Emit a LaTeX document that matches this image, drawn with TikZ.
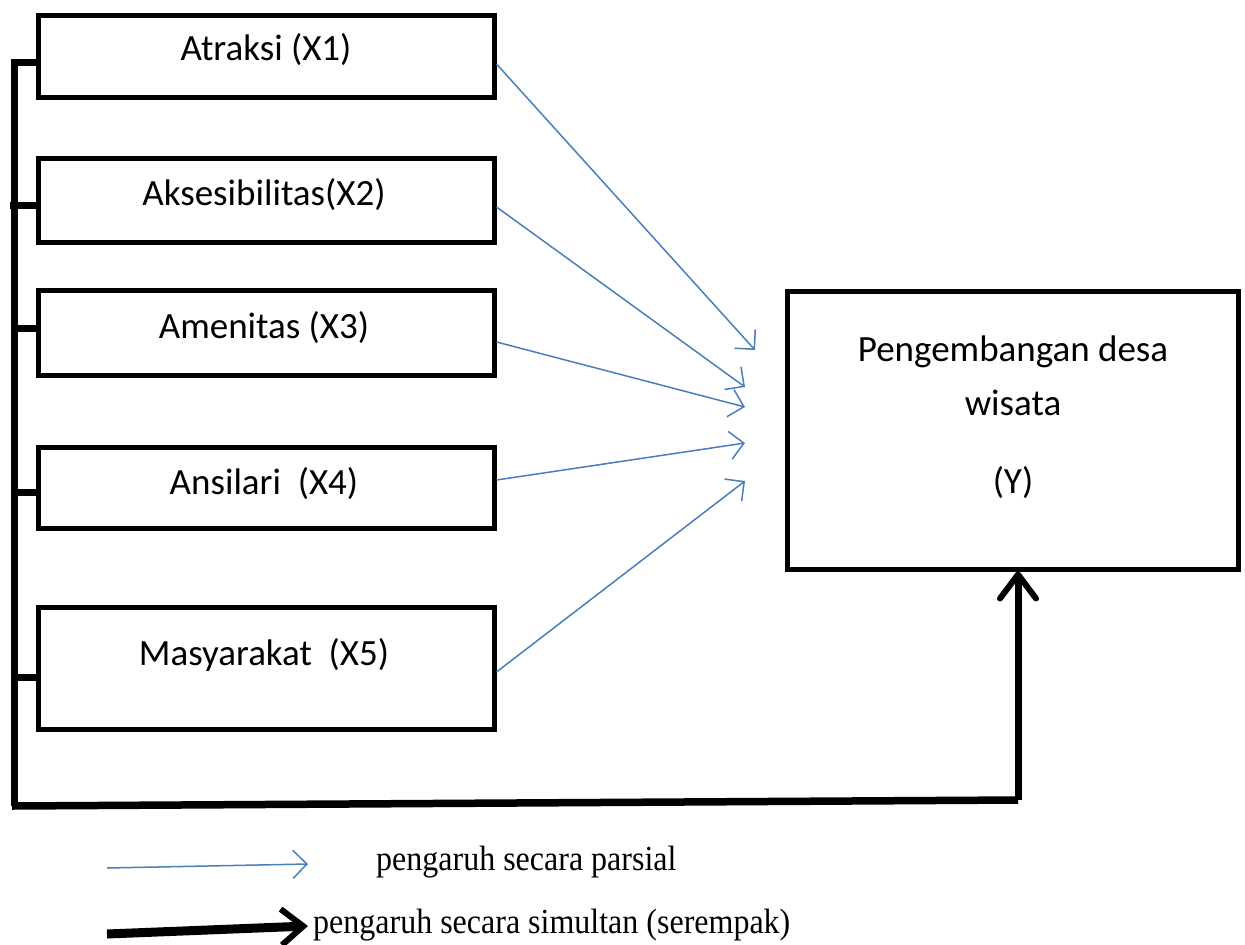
\documentclass[tikz,border=0pt]{standalone}
\usepackage{fontspec}
\setmainfont{Carlito}
\newfontfamily\legendfont{Liberation Serif}
\usetikzlibrary{arrows.meta,calc}
\definecolor{linkblue}{HTML}{4A7EBB}
\tikzset{
  xbox/.style={draw=black,line width=5pt,minimum width=456pt,inner sep=0pt},
  boxtext/.style={font=\fontsize{37}{44}\selectfont,inner sep=0pt},
  partial/.style={draw=linkblue,line width=1.5pt,-{Straight Barb[length=14pt,width=28pt,line width=1.5pt]}},
  simul/.style={draw=black,line width=7.5pt},
  simularrow/.style={draw=black,line width=7pt,-{Straight Barb[length=24pt,width=36pt,line width=6pt,round]}},
  bracket/.style={draw=black,line width=7pt},
  legtext/.style={font=\legendfont\fontsize{32}{38}\selectfont,inner sep=0pt,anchor=west}
}
\begin{document}
\begin{tikzpicture}[x=1pt,y=-1pt]
\useasboundingbox (0,0) rectangle (1245,945);
% boxes
\node[xbox,minimum height=82pt] (x1) at (266,56) {};
\node[xbox,minimum height=84pt] (x2) at (266,200) {};
\node[xbox,minimum height=85pt] (x3) at (266,333) {};
\node[xbox,minimum height=81pt] (x4) at (266,488) {};
\node[xbox,minimum height=122pt] (x5) at (266,668) {};
\node[draw=black,line width=5pt,minimum width=451pt,minimum height=278pt,inner sep=0pt] (y) at (1013,430) {};
% texts
\node[boxtext] (t1) at (266,50) {Atraksi (X1)};
\node[boxtext] (t2) at (264,195) {Aksesibilitas(X2)};
\node[boxtext] (t3) at (264,328) {Amenitas (X3)};
\node[boxtext] (t4) at (264,484) {Ansilari~ (X4)};
\node[boxtext] (t5) at (264,655) {Masyarakat~ (X5)};
\node[boxtext] (ty1) at (1013,352) {Pengembangan desa};
\node[boxtext] (ty2) at (1013,403) {wisata};
\node[boxtext] (ty3) at (1013,483) {(Y)};
% partial arrows
\coordinate (h1) at (755,350);
\coordinate (h2) at (745,387);
\coordinate (h3) at (745,407);
\coordinate (h4) at (745,443);
\coordinate (h5) at (745,481);
\draw[partial] ($(x1.east)+(0,8)$) -- (h1);
\draw[partial] ($(x2.east)+(0,7)$) -- (h2);
\draw[partial] ($(x3.east)+(0,9)$) -- (h3);
\draw[partial] ($(x4.east)+(0,-8)$) -- (h4);
\draw[partial] ($(x5.east)+(0,4)$) -- (h5);
% bracket
\coordinate (btop) at (14,62);
\coordinate (bbot) at (14,806);
\coordinate (bcorner) at (1018,800);
\draw[bracket] (btop) -- (bbot);
\draw[bracket] (10.5,62) -- (10.5,62 -| x1.west);
\draw[bracket] (10,205) -- (10,205 -| x2.west);
\draw[bracket] (12,328) -- (12,328 -| x3.west);
\draw[bracket] (12,492) -- (12,492 -| x4.west);
\draw[bracket] (12,677) -- (12,677 -| x5.west);
\draw[simul] (12,806) -- (bcorner);
\draw[simularrow] (bcorner) -- ($(y.south)+(5,0)$);
% legend
\coordinate (l1a) at (107,868);
\coordinate (l1b) at (308,864);
\coordinate (l2a) at (107,934);
\coordinate (l2b) at (308,926);
\draw[partial] (l1a) -- (l1b);
\draw[draw=black,line width=9pt,-{Straight Barb[length=22pt,width=36pt,line width=6pt]}] (l2a) -- (l2b);
\node[legtext] (lg1) at (376,862) {\scalebox{1}[1.1]{pengaruh secara parsial}};
\node[legtext] (lg2) at (313,925) {\scalebox{1}[1.1]{pengaruh secara simultan (serempak)}};
\end{tikzpicture}
\end{document}
